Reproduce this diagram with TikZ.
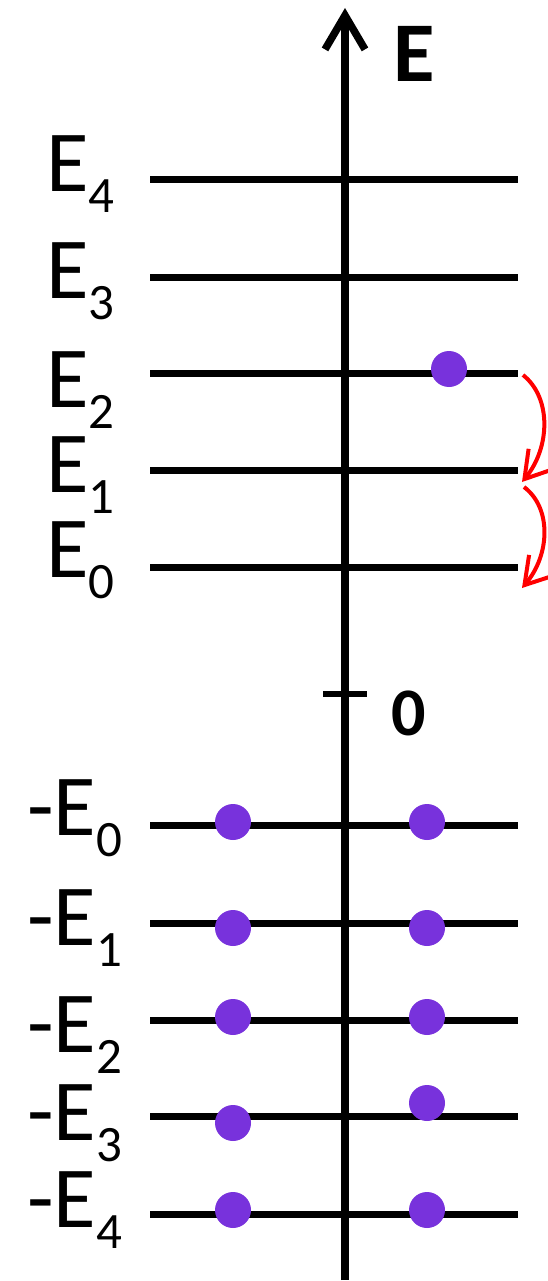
\documentclass[tikz,border=0pt]{standalone}
\usepackage{fontspec}
\setmainfont{Carlito}
\usetikzlibrary{arrows.meta}
\definecolor{electron}{RGB}{120,50,220}
\newcommand{\bigf}{\fontsize{87}{87}\selectfont}
\newcommand{\subf}{\fontsize{51}{51}\selectfont}
\newcommand{\sub}[1]{\raisebox{-21pt}{\subf #1}}
\tikzset{
  level/.style={line width=7pt},
  axisline/.style={line width=7.5pt, -{Straight Barb[length=34pt,width=40pt]}},
  dot/.style={circle, fill=electron, inner sep=0pt, minimum size=36pt},
  lab/.style={anchor=base west, inner sep=0pt, font=\bigf},
  trans/.style={red, line width=4pt, -{Straight Barb[length=26pt,width=32pt]}},
}
\begin{document}
\begin{tikzpicture}[x=1pt, y=-1pt]
\useasboundingbox (0,0) rectangle (548,1281);
% axis
\coordinate (axbot) at (345,1280);
\coordinate (axtop) at (345,8);
\draw[axisline] (axbot) -- (axtop);
\node[lab, font=\fontsize{85}{85}\selectfont\bfseries] (Elab) at (393,82) {E};
% zero tick
\coordinate (tl) at (323,694);
\coordinate (tr) at (367,694);
\draw[line width=6pt] (tl) -- (tr);
\node[lab, font=\fontsize{68}{68}\selectfont\bfseries] (zero) at (391,735) {0};
% positive levels
\foreach \n/\y in {4/180,3/277,2/373,1/470,0/567}{
  \coordinate (pl\n) at (150,\y);
  \coordinate (pr\n) at (518,\y);
  \draw[level] (pl\n) -- (pr\n);
}
% negative levels
\foreach \n/\y in {0/825,1/923,2/1020,3/1116,4/1214}{
  \coordinate (nl\n) at (150,\y);
  \coordinate (nr\n) at (518,\y);
  \draw[level] (nl\n) -- (nr\n);
}
% positive labels
\node[lab] (lE4) at (46,192) {E\sub{4}};
\node[lab] (lE3) at (46,298) {E\sub{3}};
\node[lab] (lE2) at (46,407) {E\sub{2}};
\node[lab] (lE1) at (46,492) {E\sub{1}};
\node[lab] (lE0) at (46,577) {E\sub{0}};
% negative labels
\node[lab] (mE0) at (27,835) {-E\sub{0}};
\node[lab] (mE1) at (27,945) {-E\sub{1}};
\node[lab] (mE2) at (27,1052) {-E\sub{2}};
\node[lab] (mE3) at (27,1140) {-E\sub{3}};
\node[lab] (mE4) at (27,1227) {-E\sub{4}};
% electrons
\node[dot] (e) at (449,369) {};
\node[dot] (a0) at (233,822) {};
\node[dot] (b0) at (427,822) {};
\node[dot] (a1) at (233,928) {};
\node[dot] (b1) at (427,928) {};
\node[dot] (a2) at (233,1017) {};
\node[dot] (b2) at (427,1017) {};
\node[dot] (a3) at (233,1123) {};
\node[dot] (b3) at (427,1103) {};
\node[dot] (a4) at (233,1210) {};
\node[dot] (b4) at (427,1210) {};
% transitions
\coordinate (t1s) at (523,375);
\coordinate (t1e) at (522,482);
\coordinate (t2s) at (524,487);
\coordinate (t2e) at (522,588);
\draw[trans] (t1s) .. controls (552,398) and (550,448) .. (t1e);
\draw[trans] (t2s) .. controls (552,508) and (550,555) .. (t2e);
\end{tikzpicture}
\end{document}
